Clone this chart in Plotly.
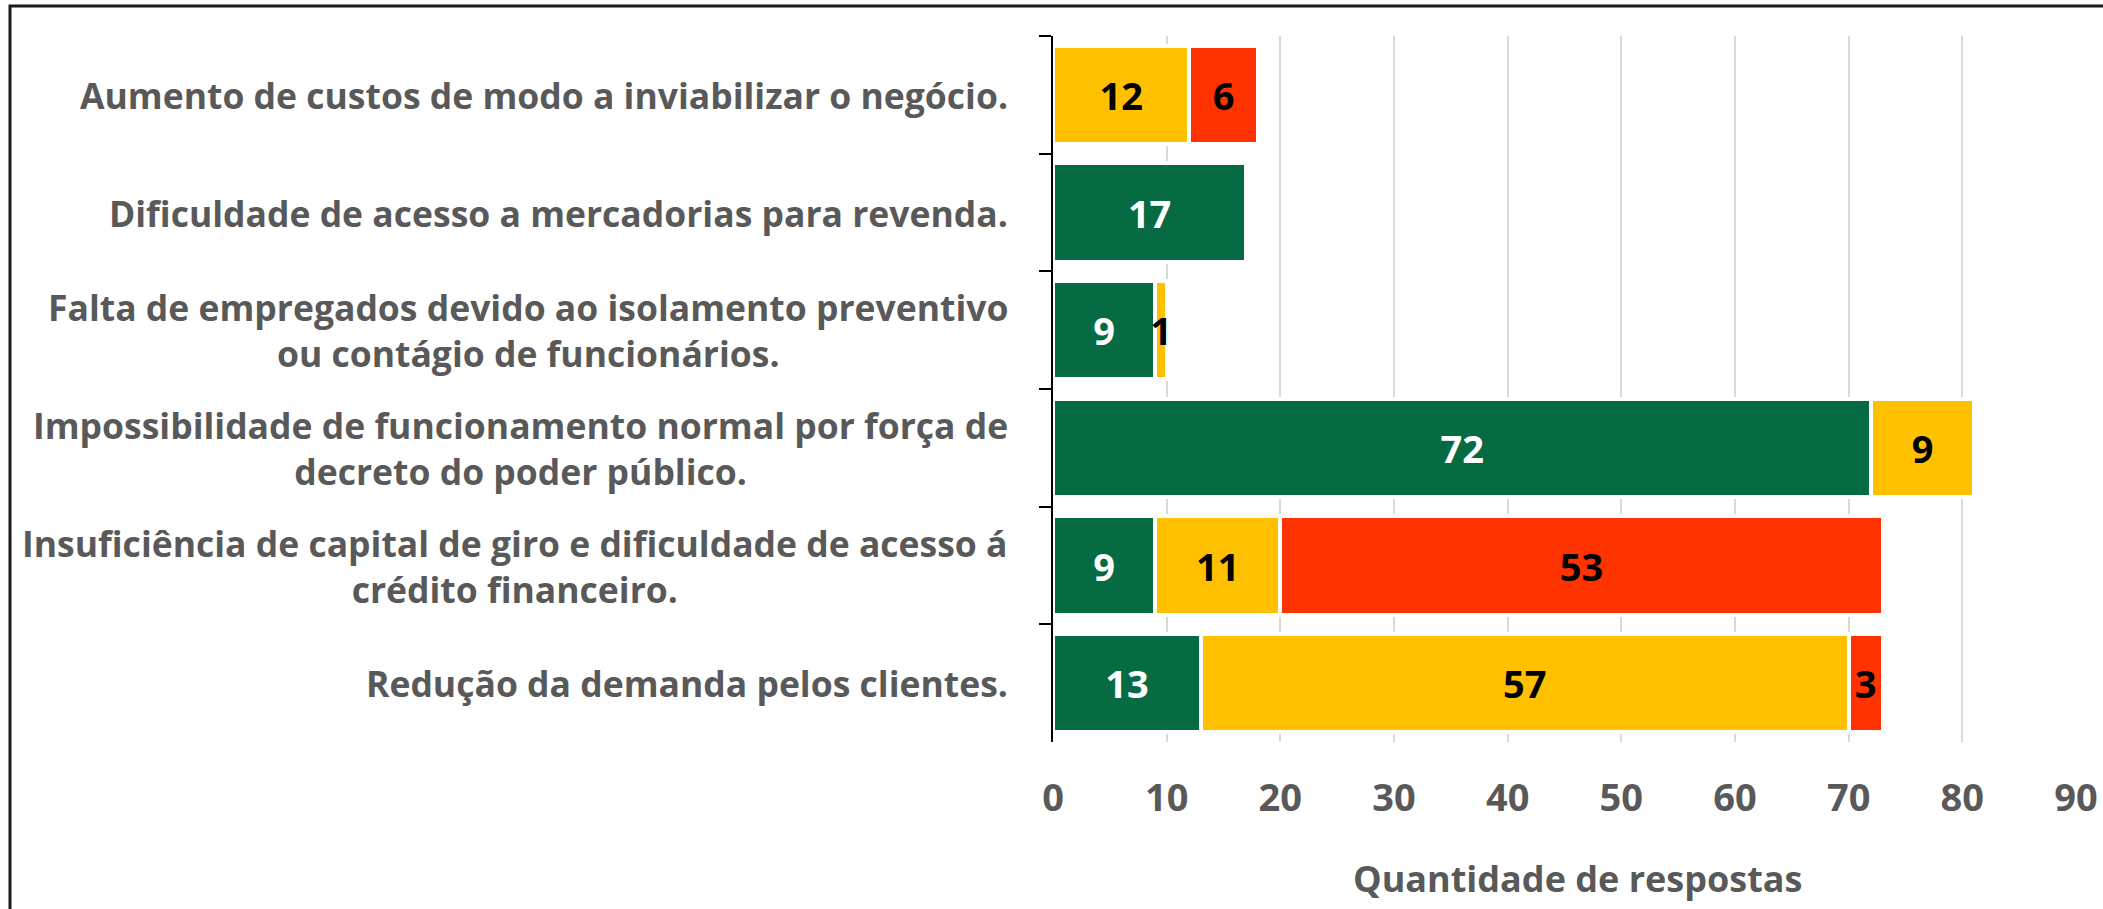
import plotly.graph_objects as go

categories = [
    "Aumento de custos de modo a inviabilizar o negócio.",
    "Dificuldade de acesso a mercadorias para revenda.",
    "Falta de empregados devido ao isolamento preventivo<br>ou contágio de funcionários.",
    "Impossibilidade de funcionamento normal por força de<br>decreto do poder público.",
    "Insuficiência de capital de giro e dificuldade de acesso á<br>crédito financeiro.",
    "Redução da demanda pelos clientes.",
]
green_vals = [None, 17, 9, 72, 9, 13]
yellow_vals = [12, None, 1, 9, 11, 57]
red_vals = [6, None, None, None, 53, 3]
series_names = ["Impacto baixo", "Impacto médio", "Impacto alto"]
x_ticks = [0, 10, 20, 30, 40, 50, 60, 70, 80, 90]
x_title = "Quantidade de respostas"

GREEN = "#066B43"
YELLOW = "#FFC000"
RED = "#FF3300"
GRAY = "#595959"
FONT = "Open Sans"

W, H = 2103, 909
L, R, T, B = 1053, 27, 36, 167
plot_w = W - L - R
plot_h = H - T - B


def lbl(vals):
    return ["" if v is None else str(v) for v in vals]


fig = go.Figure()
for name, vals, col, tcol in [
    (series_names[0], green_vals, GREEN, "white"),
    (series_names[1], yellow_vals, YELLOW, "black"),
    (series_names[2], red_vals, RED, "black"),
]:
    fig.add_trace(go.Bar(
        y=categories, x=vals, name=name, orientation="h",
        marker=dict(color=col, line=dict(color="white", width=4)),
        text=lbl(vals), textposition="inside", insidetextanchor="middle",
        textangle=0, constraintext="none", cliponaxis=False,
        insidetextfont=dict(family=FONT, size=38, color=tcol, weight="bold"),
        hoverinfo="x+y+name",
    ))

annotations = []
for c in categories:
    annotations.append(dict(
        x=0, xref="paper", y=c, yref="y", text=c, showarrow=False,
        xanchor="right", yanchor="middle", align="center", xshift=-43,
        font=dict(family=FONT, size=35.5, color=GRAY, weight="bold"),
    ))
annotations.append(dict(
    x=(1577 - L) / plot_w, xref="paper", y=-(878 - (H - B)) / plot_h, yref="paper",
    text=x_title, showarrow=False, xanchor="center", yanchor="middle",
    font=dict(family=FONT, size=36, color=GRAY, weight="bold"),
))

shapes = [dict(
    type="rect", xref="paper", yref="paper",
    x0=(10 - L) / plot_w, x1=1.2,
    y0=-0.5, y1=1 + (T - 6) / plot_h,
    line=dict(color="#1a1a1a", width=3), fillcolor="rgba(0,0,0,0)", layer="below",
)]

fig.update_layout(
    width=W, height=H, autosize=False,
    margin=dict(l=L, r=R, t=T, b=B, pad=0, autoexpand=False),
    barmode="stack", bargap=0.167,
    plot_bgcolor="white", paper_bgcolor="white",
    showlegend=False,
    annotations=annotations, shapes=shapes,
    font=dict(family=FONT, color=GRAY),
)
fig.update_xaxes(
    range=[0, 90], tickvals=x_ticks, ticktext=[str(t) for t in x_ticks],
    showgrid=True, gridcolor="#D9D9D9", gridwidth=2,
    zeroline=False, showline=False, ticks="", automargin=False,
    tickfont=dict(family=FONT, size=38, color=GRAY, weight="bold"),
    ticklabelstandoff=30,
)
fig.update_yaxes(
    range=[5.5, -0.5], type="category", automargin=False,
    showticklabels=False, showgrid=False, zeroline=False,
    showline=True, linecolor="black", linewidth=2,
    ticks="outside", tickson="boundaries", ticklen=12, tickwidth=2, tickcolor="black",
)

fig.write_html(
    "out.html",
    config={"displayModeBar": False},
    post_script="document.body.style.margin='0';document.body.style.overflow='hidden';",
)
